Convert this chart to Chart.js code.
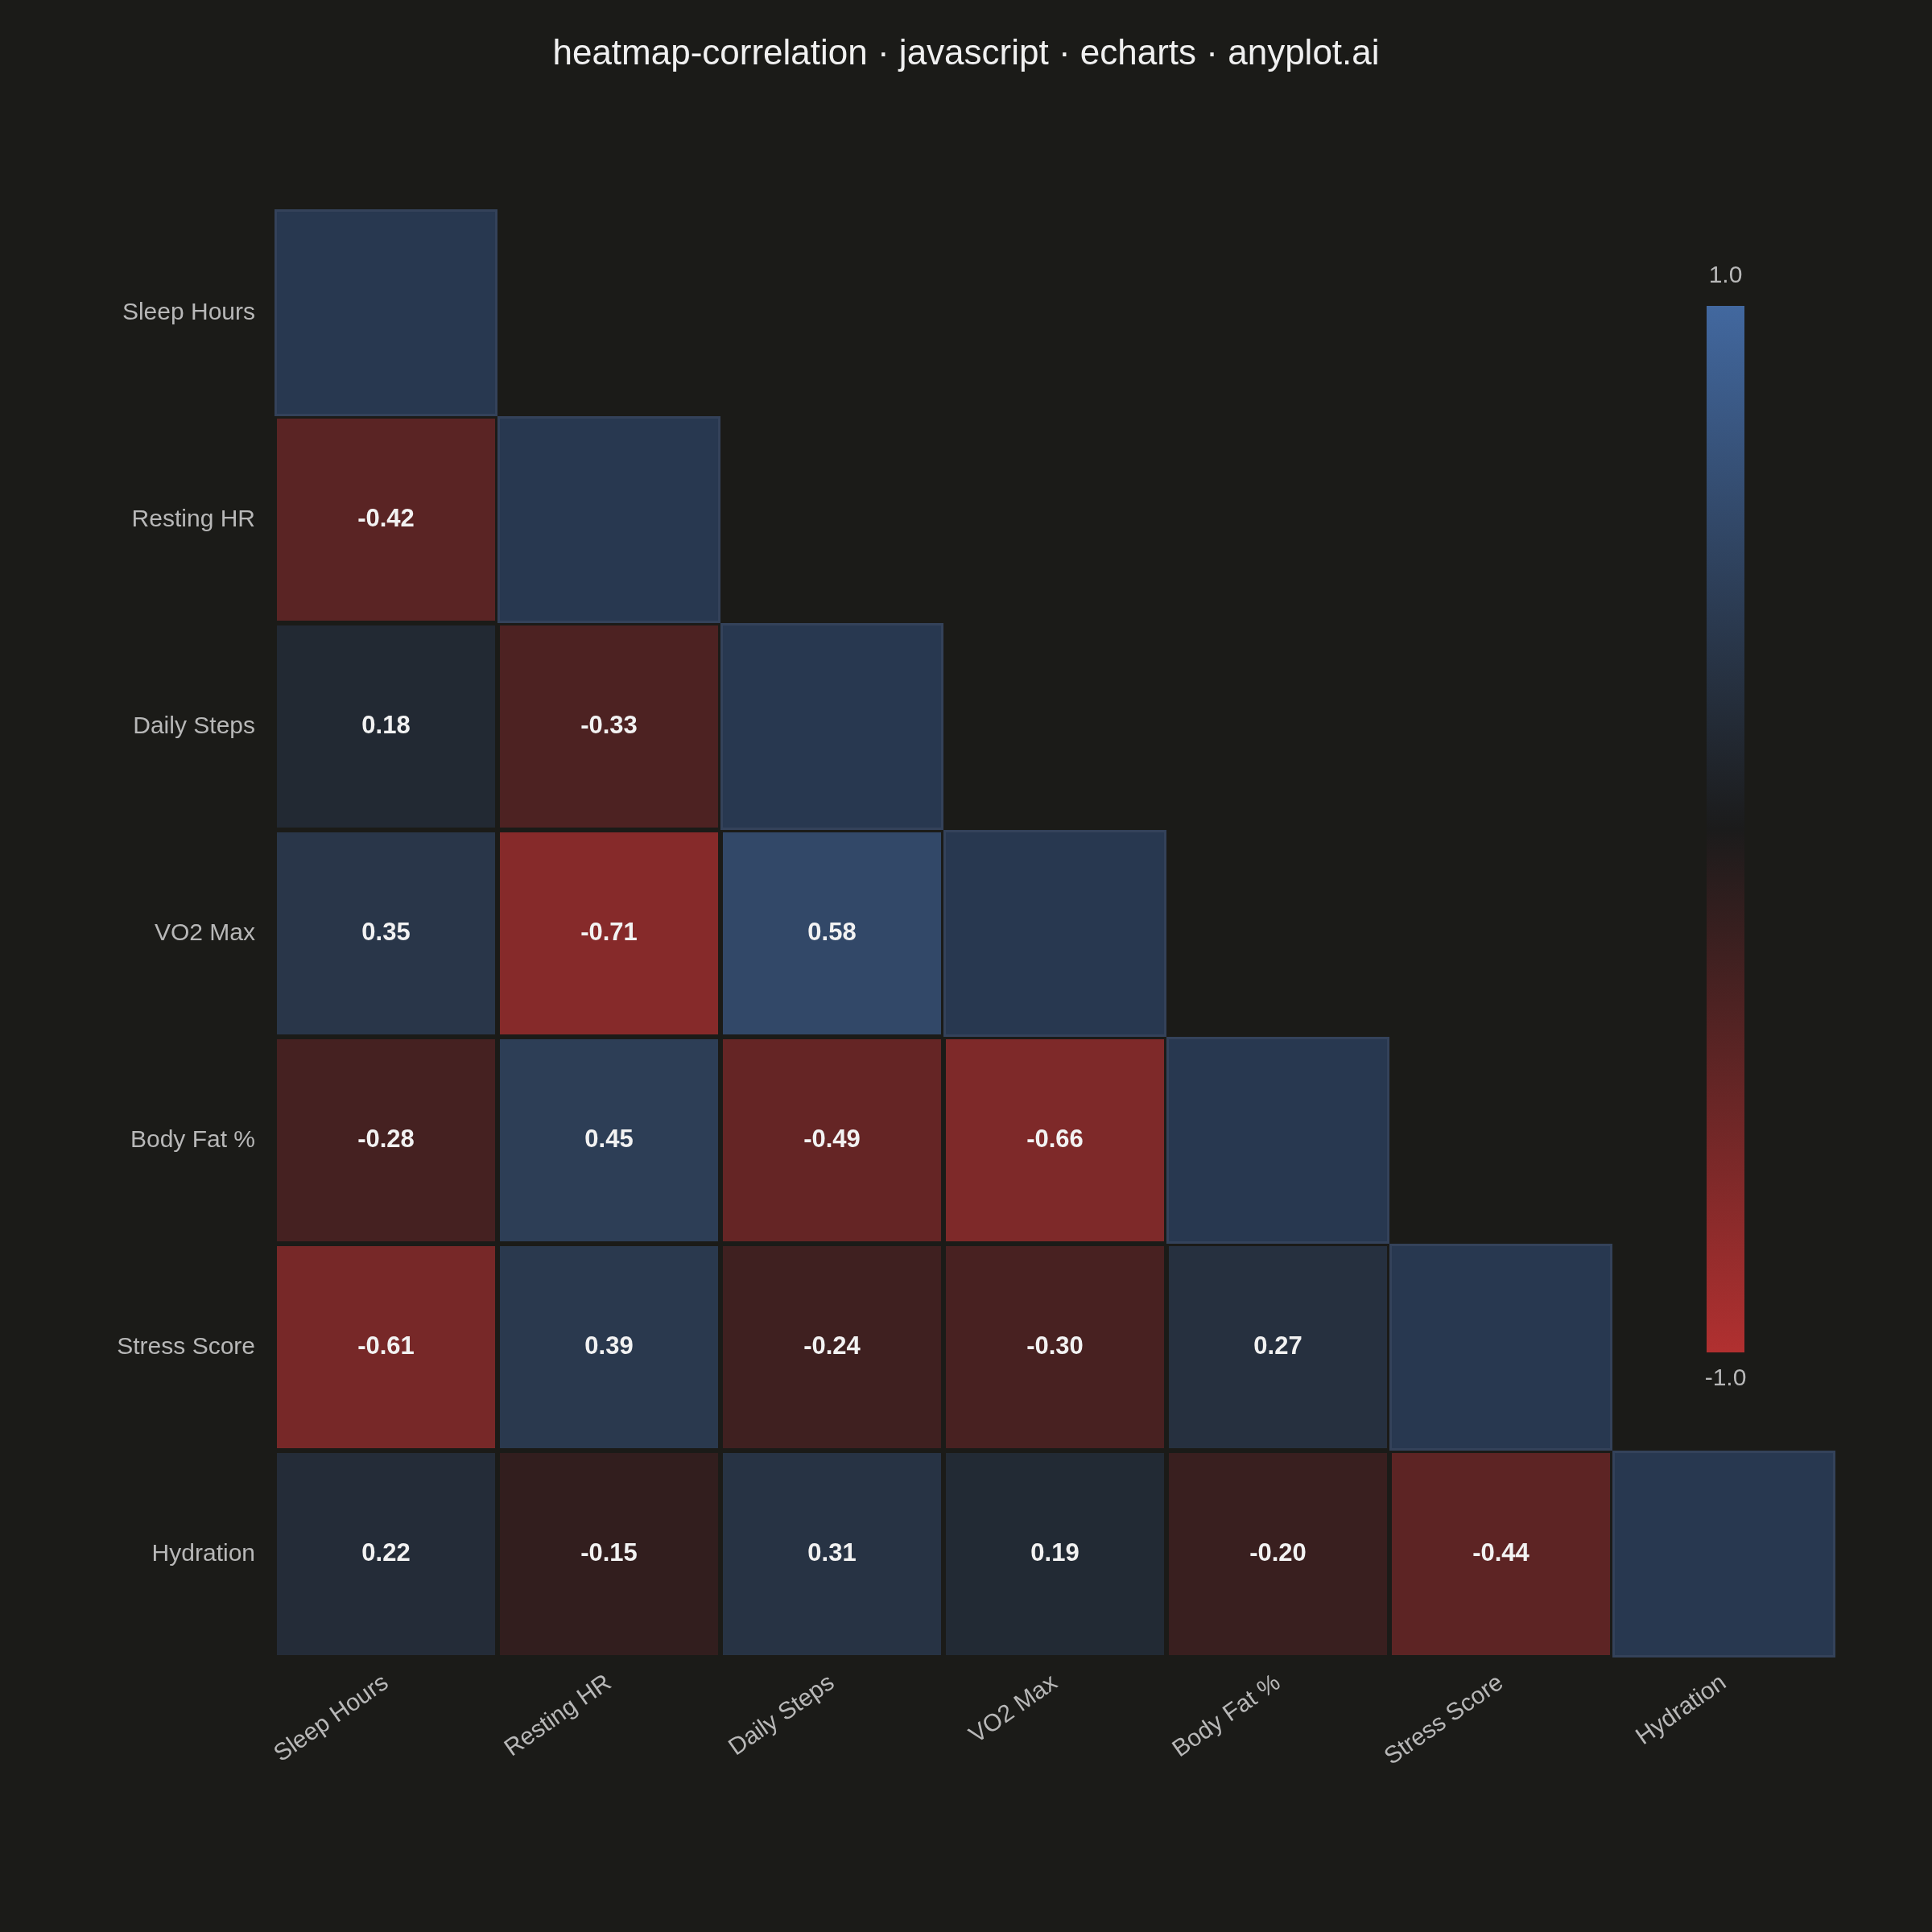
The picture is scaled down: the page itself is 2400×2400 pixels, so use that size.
<!DOCTYPE html>
<html>
<head>
<meta charset="utf-8">
<script src="https://cdn.jsdelivr.net/npm/chart.js@4.4.1/dist/chart.umd.min.js"></script>
<style>
  html, body { margin: 0; background: #1b1b18; }
  #wrap { width: 2400px; height: 2400px; }
</style>
</head>
<body>
<div id="wrap"><canvas id="heat"></canvas></div>
<script>
var TITLE = 'heatmap-correlation · javascript · echarts · anyplot.ai';
var variables = ['Sleep Hours', 'Resting HR', 'Daily Steps', 'VO2 Max', 'Body Fat %', 'Stress Score', 'Hydration'];
// lower triangle rows (row i has i+1 values, last is diagonal)
var corrRows = [
    [1.00],
    [-0.42, 1.00],
    [0.18, -0.33, 1.00],
    [0.35, -0.71, 0.58, 1.00],
    [-0.28, 0.45, -0.49, -0.66, 1.00],
    [-0.61, 0.39, -0.24, -0.30, 0.27, 1.00],
    [0.22, -0.15, 0.31, 0.19, -0.20, -0.44, 1.00]
];
var colorbarTicks = ['1.0', '-1.0'];

var NEG = [177, 48, 48];
var MID = [27, 27, 27];
var POS = [66, 104, 159];
var DIAG = '#283850';

function valueColor(v) {
    var end = v < 0 ? NEG : POS;
    var t = Math.abs(v);
    var c = MID.map(function (m, k) { return Math.round(m + t * (end[k] - m)); });
    return 'rgb(' + c.join(',') + ')';
}

var cells = [];
corrRows.forEach(function (row, i) {
    row.forEach(function (v, j) { cells.push({ x: j, y: i, v: v }); });
});

var heatPlugin = {
    id: 'heatCells',
    beforeDatasetsDraw: function (chart) {
        var ctx = chart.ctx, xs = chart.scales.x, ys = chart.scales.y;
        ctx.save();
        cells.forEach(function (c) {
            var x0 = xs.getPixelForValue(c.x - 0.5), x1 = xs.getPixelForValue(c.x + 0.5);
            var y0 = ys.getPixelForValue(c.y - 0.5), y1 = ys.getPixelForValue(c.y + 0.5);
            var diag = c.x === c.y;
            ctx.fillStyle = diag ? DIAG : valueColor(c.v);
            ctx.fillRect(x0 + 3, y0 + 3, x1 - x0 - 6, y1 - y0 - 6);
            if (diag) {
                ctx.strokeStyle = '#34425a';
                ctx.lineWidth = 3;
                ctx.strokeRect(x0 + 1.5, y0 + 1.5, x1 - x0 - 3, y1 - y0 - 3);
            } else {
                ctx.fillStyle = '#f2f2f2';
                ctx.font = 'bold 31px "Liberation Sans", Arial, sans-serif';
                ctx.textAlign = 'center';
                ctx.textBaseline = 'middle';
                ctx.fillText(c.v.toFixed(2), (x0 + x1) / 2, (y0 + y1) / 2);
            }
        });
        ctx.restore();
    },
    afterDraw: function (chart) {
        var ctx = chart.ctx;
        ctx.save();
        ctx.fillStyle = '#f0f0f0';
        ctx.font = '44px "Liberation Sans", Arial, sans-serif';
        ctx.textAlign = 'center';
        ctx.textBaseline = 'middle';
        ctx.fillText(TITLE, 1200, 68);
        // colour bar
        var bx = 2120, bw = 47, top = 380, bottom = 1680;
        var g = ctx.createLinearGradient(0, top, 0, bottom);
        g.addColorStop(0, valueColor(1));
        g.addColorStop(0.5, valueColor(0));
        g.addColorStop(1, valueColor(-1));
        ctx.fillStyle = g;
        ctx.fillRect(bx, top, bw, bottom - top);
        ctx.fillStyle = '#b8b8b8';
        ctx.font = '30px "Liberation Sans", Arial, sans-serif';
        ctx.fillText(colorbarTicks[0], bx + bw / 2, 343);
        ctx.fillText(colorbarTicks[1], bx + bw / 2, 1713);
        ctx.restore();
    }
};

new Chart(document.getElementById('heat').getContext('2d'), {
    type: 'scatter',
    data: { datasets: [{ data: cells, pointRadius: 0 }] },
    plugins: [heatPlugin],
    options: {
        responsive: true,
        maintainAspectRatio: false,
        animation: false,
        layout: { padding: { top: 260, right: 120, left: 0, bottom: 0 } },
        plugins: { legend: { display: false }, tooltip: { enabled: false } },
        scales: {
            x: {
                min: -0.5, max: 6.5,
                afterFit: function (s) { s.height = 341; },
                afterBuildTicks: function (s) { s.ticks = variables.map(function (_, i) { return { value: i }; }); },
                grid: { display: false },
                border: { display: false },
                ticks: {
                    autoSkip: false, minRotation: 35, maxRotation: 35, padding: 6,
                    color: '#b8b8b8',
                    font: { size: 30, family: '"Liberation Sans", Arial, sans-serif' },
                    callback: function (v) { return variables[v]; }
                }
            },
            y: {
                reverse: true, min: -0.5, max: 6.5,
                afterFit: function (s) { s.width = 341; },
                afterBuildTicks: function (s) { s.ticks = variables.map(function (_, i) { return { value: i }; }); },
                grid: { display: false },
                border: { display: false },
                ticks: {
                    autoSkip: false, padding: 16,
                    color: '#b8b8b8',
                    font: { size: 30, family: '"Liberation Sans", Arial, sans-serif' },
                    callback: function (v) { return variables[v]; }
                }
            }
        }
    }
});
</script>
</body>
</html>
